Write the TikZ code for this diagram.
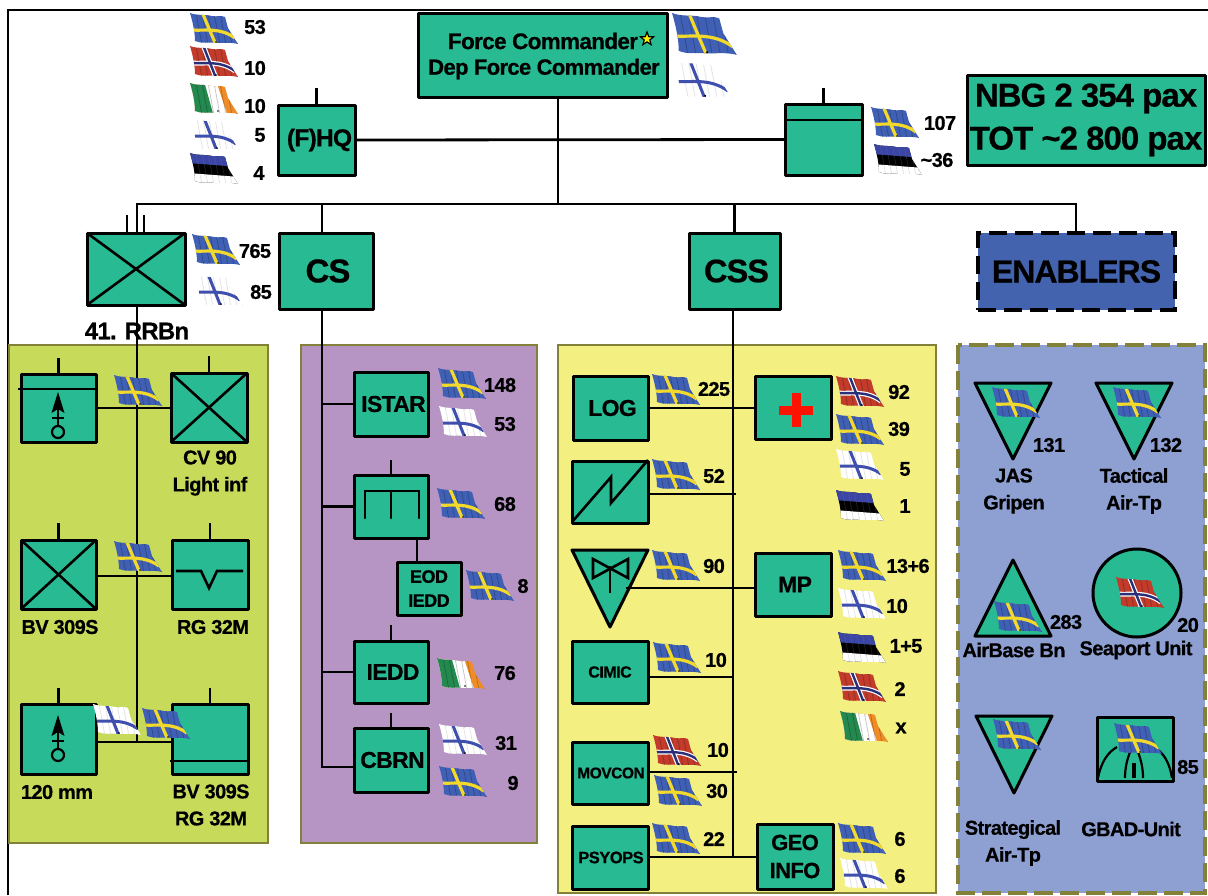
\documentclass[tikz,border=0pt]{standalone}
\usepackage{fontspec}
\setmainfont{Liberation Sans}[LetterSpace=-3,BoldFeatures={FakeBold=0.6}]
\usetikzlibrary{shapes.geometric}
\definecolor{unitgreen}{HTML}{28BA92}
\definecolor{panelgreen}{HTML}{C8DA5A}
\definecolor{panelpurple}{HTML}{B695C5}
\definecolor{panelyellow}{HTML}{F3EF80}
\definecolor{panelblue}{HTML}{8E9FD2}
\definecolor{panelolive}{HTML}{83803A}
\definecolor{enablerblue}{HTML}{4463AE}
\definecolor{seblue}{HTML}{3F60B5}
\definecolor{seyellow}{HTML}{F2D92B}
\definecolor{nored}{HTML}{C23B2B}
\definecolor{nonavy}{HTML}{2A2F78}
\definecolor{iegreen}{HTML}{23894F}
\definecolor{ieorange}{HTML}{F08C28}
\definecolor{fiblue}{HTML}{3F4FAE}
\definecolor{eeblue}{HTML}{3A45A5}
\newcommand{\fsz}[2]{\fontsize{#1}{#2}\selectfont\bfseries}
\newcommand{\flagoutline}{(0,0) .. controls (8,3) and (14,1) .. (22,3) .. controls (27,4) and (31,2) .. (35,4) -- (38,15) -- (48,31) .. controls (40,29) and (33,30) .. (26,30) .. controls (18,29) and (12,31) .. (5,28) .. controls (5,20) and (3,10) .. cycle}
\newcommand{\flagwave}[1]{%
  \foreach \wx in {6,12,18,24,30,36,42}{\draw[#1,line width=0.8,opacity=0.22] (\wx,0) -- (\wx+6,32);}
}
\tikzset{
  link/.style={draw=black,line width=2.8,line cap=butt},
  unitbox/.style={draw=black,fill=unitgreen,line width=3,line join=round,inner sep=0,outer sep=0,rectangle,align=center},
  mark line/.style={draw=black,line width=2.6,line join=miter},
  tri/.style={draw=black,fill=unitgreen,line width=3,line join=round},
  numtxt/.style={inner sep=0,font=\fsz{20}{24}},
  captxt/.style={inner sep=0,align=center,font=\fsz{20}{27}},
  pics/seflag/.style={code={
    \begin{scope}
      \clip \flagoutline;
      \fill[seblue] (-2,-2) rectangle (50,34);
      \flagwave{black}
      \draw[seyellow,line width=3.2] (12,-1) -- (26,32);
      \draw[seyellow,line width=3.2] (2,17) .. controls (14,18) and (30,14) .. (45,25);
    \end{scope}
    \fill[black] (26,29) circle (0.9);
  }},
  pics/noflag/.style={code={
    \begin{scope}
      \clip \flagoutline;
      \fill[nored] (-2,-2) rectangle (50,34);
      \flagwave{black}
      \draw[white,line width=4.8] (13,-1) -- (26,32);
      \draw[white,line width=4.8] (2,17) .. controls (14,18) and (30,14) .. (45,25);
      \draw[nonavy,line width=2.4] (13,-1) -- (26,32);
      \draw[nonavy,line width=2.4] (2,17) .. controls (14,18) and (30,14) .. (45,25);
    \end{scope}
    \fill[black] (26,29) circle (0.9);
  }},
  pics/fiflag/.style={code={
    \begin{scope}
      \clip \flagoutline;
      \fill[white] (-2,-2) rectangle (50,34);
      \flagwave{gray}
      \draw[fiblue,line width=3] (13,-1) -- (26,32);
      \draw[fiblue,line width=3] (2,17) .. controls (14,18) and (30,14) .. (45,25);
    \end{scope}
    \fill[black] (26,29) circle (0.9);
  }},
  pics/ieflag/.style={code={
    \begin{scope}
      \clip \flagoutline;
      \fill[ieorange] (-2,-2) rectangle (50,34);
      \fill[white] (-2,-2) -- (26,-2) -- (38,34) -- (-2,34) -- cycle;
      \fill[iegreen] (-2,-2) -- (14,-2) -- (24,34) -- (-2,34) -- cycle;
      \flagwave{black}
    \end{scope}
    \fill[black] (28,28) circle (0.9);
  }},
  pics/eeflag/.style={code={
    \begin{scope}
      \clip \flagoutline;
      \fill[black] (-2,-2) rectangle (50,34);
      \fill[white] (-2,20) -- (50,24) -- (50,34) -- (-2,34) -- cycle;
      \fill[eeblue] (-2,-2) -- (50,-2) -- (50,14) -- (-2,10) -- cycle;
      \flagwave{gray}
    \end{scope}
  }},
}
\newcommand{\unit}[6][]{\node[unitbox,font={#1},minimum width={#4-#2},minimum height={#5-#3}] (#3) at ({(#2+#4)/2},{(#3+#5)/2}) {#6};}
\renewcommand{\unit}[7][]{\node[unitbox,font={#1},minimum width={#5-#3},minimum height={#6-#4}] (#2) at ({(#3+#5)/2},{(#4+#6)/2}) {#7};}
\newcommand{\flagat}[4][1]{\pic[scale=#1] at (#3,#4) {#2flag};}
\newcommand{\numat}[3]{\node[numtxt] (n-#1-#2) at (#1,#2) {#3};}
\newcommand{\capat}[3]{\node[captxt] (c-#1-#2) at (#1,#2) {#3};}
\newcommand{\stem}[2]{\path (#1.north) ++(0,-#2) coordinate (#1top); \draw[link] (#1.north) -- (#1top);}
\newcommand{\crossbox}[1]{\draw[mark line] (#1.north west) -- (#1.south east) (#1.north east) -- (#1.south west);}
\newcommand{\mortar}[2]{%
  \fill[black] (#1,#2) -- (#1+6.5,#2+21) -- (#1,#2+17) -- (#1-6.5,#2+21) -- cycle;
  \draw[black,line width=2.2] (#1,#2+15) -- (#1,#2+34) (#1-6,#2+26) -- (#1+6,#2+26);
  \draw[black,line width=2.2] (#1,#2+40) circle (6);
}
\begin{document}
\begin{tikzpicture}[x=1pt,y=-1pt]
\useasboundingbox (0,0) rectangle (1208,895);
\fill[white] (0,0) rectangle (1208,895);
\draw[black,line width=1.3] (8,895) -- (8,10) -- (1208,10);

% panels
\fill[panelgreen,draw=panelolive,line width=1.2] (9,345) rectangle (268,843);
\fill[panelpurple,draw=panelolive,line width=1.2] (301,345) rectangle (537,843);
\fill[panelyellow,draw=panelolive,line width=1.2] (558,345) rectangle (936,893);
\fill[panelblue] (958,345) rectangle (1205,893);
\draw[panelolive,line width=4,dash pattern=on 19pt off 7pt] (958,345) rectangle (1205,893);

% command row
\coordinate (busL) at (137,204);
\coordinate (busR) at (1076,204);
\coordinate (fcdrop) at (558,97);
\unit{fc}{418}{13}{667}{97}{}
\unit[\fsz{24.5}{28}]{hq}{278}{105}{355}{175}{\hspace*{6pt}(F)HQ}
\unit{staff}{785}{104}{862}{175}{}
\unit[\fsz{33}{43}]{total}{967}{75}{1205}{165}{NBG 2 354 pax\\TOT \textasciitilde 2 800 pax}
\unit{rb}{87}{233}{185}{305}{}
\unit[\fsz{33}{38}]{cs}{279}{233}{373}{309}{\hspace*{4pt}CS}
\unit[\fsz{32.5}{38}]{css}{689}{233}{780}{309}{\hspace*{4pt}CSS}
\node[draw=black,fill=enablerblue,line width=3.6,dash pattern=on 18pt off 8pt,inner sep=0,outer sep=0,minimum width=197,minimum height=77,font=\fsz{32}{38}] (en) at (1076.5,271.5) {ENABLERS};

\node[inner sep=0,font=\fsz{22.5}{27}] (fctext1) at (543,41) {Force Commander};
\node[inner sep=0,font=\fsz{22}{27}] (fctext2) at (544,69) {Dep Force Commander};
\node[star,star points=5,star point ratio=2.4,draw=black,fill=yellow,line width=1.2,minimum size=14,inner sep=0] (fcstar) at (647,39) {};

\draw[link] (fcdrop) -- (fcdrop |- busL);
\draw[link] (hq.east) -- (staff.west);
\draw[link] (rb.north -| busL) -- (busL) -- (busR) -- (en.north -| busR);
\draw[link] (cs.north -| 322,0) -- (322,204);
\draw[link] (css.north) -- (css.north |- busL);
\stem{hq}{17}
\stem{staff}{16}
\draw[mark line] (staff.west |- 0,120) -- (staff.east |- 0,120);
\coordinate (rbs1) at (127,215);
\coordinate (rbs2) at (144,215);
\draw[link] (rbs1) -- (rbs1 |- rb.north);
\draw[link] (rbs2) -- (rbs2 |- rb.north);
\crossbox{rb}

\flagat[1.35]{se}{672}{13}
\flagat[1.2]{fi}{674}{61}
\flagat{se}{190}{13}
\flagat{no}{190}{46}
\flagat{ie}{190}{83}
\flagat{fi}{191}{119}
\flagat{ee}{190}{153}
\numat{255}{27}{53}
\numat{255}{68}{10}
\numat{255}{106}{10}
\numat{260}{135}{5}
\numat{259}{173}{4}
\flagat{se}{871}{107}
\flagat{ee}{874}{144}
\numat{940}{123}{107}
\numat{937}{160}{\textasciitilde 36}
\flagat{se}{192}{234}
\flagat{fi}{195}{275}
\numat{255}{251}{765}
\numat{261}{292}{85}
\node[inner sep=0,font=\fsz{24}{30}] (rblabel) at (137,331) {41. RRBn};

% left column
\unit{mor}{21}{374}{96}{442}{}
\unit{cv}{171}{373}{247}{442}{}
\unit{bv}{21}{540}{96}{609}{}
\unit{rg}{172}{540}{248}{609}{}
\unit{mm}{21}{704}{96}{774}{}
\unit{bvrg}{172}{704}{248}{774}{}
\coordinate (rbbus) at (137,742);
\draw[link] (rb.south -| rbbus) -- (rbbus);
\draw[link] (mor.east |- 0,408) -- (cv.west |- 0,408);
\draw[link] (bv.east |- 0,576) -- (rg.west |- 0,576);
\draw[link] (mm.east |- rbbus) -- (bvrg.west |- rbbus);
\stem{mor}{16} \stem{cv}{17} \stem{bv}{17} \stem{rg}{17} \stem{mm}{16} \stem{bvrg}{16}
\crossbox{cv}
\crossbox{bv}
\draw[mark line] (18,389) -- (96,389);
\mortar{58}{392}
\mortar{58}{715}
\draw[mark line] (176,571) -- (201,571) -- (209,588) -- (217,571) -- (243,571);
\draw[mark line] (170,761) -- (248,761);
\flagat{se}{114}{375}
\flagat{se}{114}{541}
\flagat{fi}{93}{704}
\flagat{se}{142}{708}
\capat{210}{473}{CV 90\\Light inf}
\capat{60}{627}{BV 309S}
\capat{213}{627}{RG 32M}
\capat{57}{792}{120 mm}
\capat{211}{805}{BV 309S\\RG 32M}

% CS column
\unit[\fsz{23}{28}]{istar}{354}{372}{428}{436}{\hspace*{5pt}ISTAR}
\unit{eng}{354}{475}{428}{538}{}
\unit[\fsz{18}{24}]{eod}{397}{562}{461}{615}{EOD\\IEDD}
\unit[\fsz{23}{28}]{iedd}{354}{641}{428}{703}{\hspace*{4pt}IEDD}
\unit[\fsz{23}{28}]{cbrn}{354}{728}{428}{792}{\hspace*{3pt}CBRN}
\coordinate (csbus) at (322,767);
\draw[link] (cs.south -| csbus) -- (csbus) -- (cbrn.west |- csbus);
\draw[link] (csbus |- istar.west) -- (istar.west);
\draw[link] (csbus |- eng.west) -- (eng.west);
\draw[link] (csbus |- iedd.west) -- (iedd.west);
\draw[link] (eod.north -| 417,0) -- (eng.south -| 417,0);
\stem{eng}{15} \stem{iedd}{16} \stem{cbrn}{15}
\draw[mark line,line cap=round] (365,518) -- (365,491) -- (419,491) -- (419,518) (391,491) -- (391,518);
\flagat{se}{438}{368}
\flagat{fi}{439}{406}
\flagat{se}{437}{488}
\flagat{se}{466}{570}
\flagat{ie}{437}{658}
\flagat{fi}{439}{724}
\flagat{se}{439}{766}
\numat{500}{385}{148}
\numat{505}{424}{53}
\numat{505}{504}{68}
\numat{523}{586}{8}
\numat{505}{673}{76}
\numat{506}{743}{31}
\numat{513}{783}{9}

% CSS column
\unit[\fsz{23}{28}]{log}{573}{376}{648}{440}{\hspace*{4pt}LOG}
\unit{med}{755}{376}{831}{439}{}
\unit{sig}{572}{461}{648}{523}{}
\unit[\fsz{23}{28}]{mp}{755}{553}{831}{616}{\hspace*{4pt}MP}
\unit[\fsz{16}{20}]{cimic}{572}{641}{648}{703}{CIMIC}
\unit[\fsz{15.5}{20}]{movcon}{572}{742}{648}{804}{\hspace*{2pt}MOVCON}
\unit[\fsz{16.5}{20}]{psyops}{572}{826}{648}{889}{\hspace*{2pt}PSYOPS}
\unit[\fsz{22}{28}]{geo}{757}{824}{833}{889}{GEO\\INFO}
\coordinate (cssbus) at (733,857);
\coordinate (trip) at (626,588);
\draw[link] (css.south -| cssbus) -- (cssbus);
\draw[link] (log.east |- 0,408) -- (med.west |- 0,408);
\draw[link] (sig.east |- 0,494) -- (736,494);
\draw[link] (cimic.east |- 0,677) -- (733,677);
\draw[link] (movcon.east |- 0,772) -- (737,772);
\draw[link] (psyops.east |- cssbus) -- (geo.west |- cssbus);
\draw[tri] (572,550) -- (648,550) -- (610,627) -- cycle;
\draw[link] (trip) -- (mp.west |- trip);
\draw[mark line] (593,559) -- (593,578) -- (628,559) -- (628,578) -- cycle;
\draw[mark line] (610,566) -- (610,593);
\draw[mark line] (572,522) -- (611,477) -- (611,503) -- (648,460);
\fill[red!85!orange] (792,393) rectangle (801,427);
\fill[red!85!orange] (779,405.5) rectangle (813,414.5);
\flagat{se}{652}{374}
\flagat{se}{652}{459}
\flagat{se}{652}{550}
\flagat{se}{653}{642}
\flagat{no}{653}{735}
\flagat{se}{654}{775}
\flagat{se}{652}{823}
\flagat{no}{836}{376}
\flagat{se}{836}{414}
\flagat{fi}{836}{449}
\flagat{ee}{836}{490}
\flagat{se}{838}{550}
\flagat{fi}{838}{588}
\flagat{ee}{838}{632}
\flagat{no}{838}{671}
\flagat{ie}{840}{711}
\flagat{se}{838}{823}
\flagat{fi}{840}{858}
\numat{714}{389}{225}
\numat{714}{476}{52}
\numat{714}{566}{90}
\numat{716}{660}{10}
\numat{718}{750}{10}
\numat{717}{791}{30}
\numat{714}{839}{22}
\numat{899}{392}{92}
\numat{899}{429}{39}
\numat{905}{469}{5}
\numat{905}{506}{1}
\numat{908}{566}{13+6}
\numat{897}{606}{10}
\numat{906}{646}{1+5}
\numat{900}{689}{2}
\numat{901}{728}{x}
\numat{900}{839}{6}
\numat{900}{876}{6}

% Enablers panel
\draw[tri] (975,383) -- (1051,383) -- (1013,459) -- cycle;
\draw[tri] (1096,383) -- (1172,383) -- (1134,459) -- cycle;
\draw[tri] (975,636) -- (1051,636) -- (1013,560) -- cycle;
\node[circle,draw=black,fill=unitgreen,line width=3,minimum size=88,inner sep=0] (seaport) at (1137,593) {};
\draw[tri] (976,716) -- (1052,716) -- (1014,793) -- cycle;
\unit{gbad}{1097}{717}{1173}{781}{}
\draw[mark line,line width=2.2] (1098,778) .. controls (1101,762) and (1108,752) .. (1117,747);
\draw[mark line,line width=2.2] (1172,778) .. controls (1170,765) and (1165,755) .. (1158,750);
\draw[mark line,line width=2.2] (1125,778) .. controls (1125,768) and (1127,760) .. (1130,752);
\draw[mark line,line width=2.2] (1143,778) .. controls (1143,768) and (1141,760) .. (1138,752);
\draw[mark line,line width=2.2] (1133,778) -- (1133,763) (1135,778) -- (1135,763);
\flagat{se}{992}{387}
\flagat{se}{1113}{387}
\flagat{se}{994}{601}
\flagat{no}{1116}{577}
\flagat{se}{993}{719}
\flagat{se}{1114}{723}
\numat{1049}{445}{131}
\numat{1166}{445}{132}
\numat{1066}{622}{283}
\numat{1188}{625}{20}
\numat{1188}{767}{85}
\capat{1014}{491}{JAS\\Gripen}
\capat{1134}{491}{Tactical\\Air-Tp}
\capat{1014}{650}{AirBase Bn}
\capat{1136}{650}{Seaport Unit}
\capat{1013}{843}{Strategical\\Air-Tp}
\capat{1131}{829}{GBAD-Unit}
\end{tikzpicture}
\end{document}
